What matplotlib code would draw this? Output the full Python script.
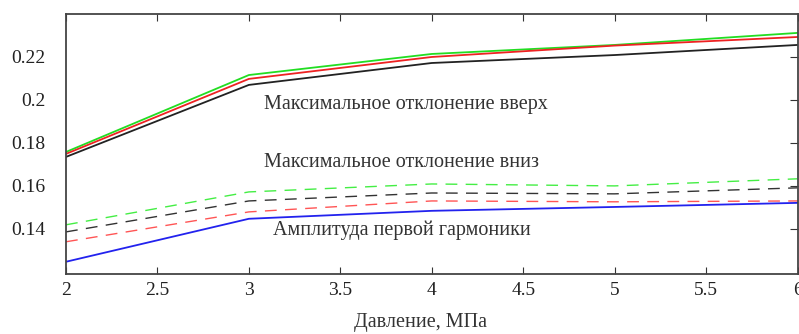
import matplotlib
matplotlib.use("Agg")
import matplotlib.pyplot as plt

pressure = [2, 3, 4, 5, 6]
up_green = [0.1758, 0.2116, 0.2214, 0.2256, 0.2312]
up_red = [0.1749, 0.2098, 0.2200, 0.2253, 0.2293]
up_black = [0.1735, 0.2070, 0.2172, 0.2209, 0.2256]
down_green = [0.1419, 0.1572, 0.1609, 0.1600, 0.1633]
down_black = [0.1386, 0.1530, 0.1567, 0.1563, 0.1591]
down_red = [0.1340, 0.1479, 0.1530, 0.1526, 0.1530]
amplitude = [0.1247, 0.1447, 0.1484, 0.1502, 0.1521]

xticks = [2, 2.5, 3, 3.5, 4, 4.5, 5, 5.5, 6]
xticklabels = ["2", "2.5", "3", "3.5", "4", "4.5", "5", "5.5", "6"]
yticks = [0.14, 0.16, 0.18, 0.2, 0.22]
yticklabels = ["0.14", "0.16", "0.18", "0.2", "0.22"]

label_up = "Максимальное отклонение вверх"
label_down = "Максимальное отклонение вниз"
label_amp = "Амплитуда первой гармоники"
xlabel = "Давление, МПа"

plt.rcParams['font.family'] = ['Liberation Serif', 'DejaVu Serif']

fig = plt.figure(figsize=(7.99, 3.34), dpi=100)
ax = fig.add_axes([66/799, 1-274/334, (797.5-66)/799, (274-14)/334])

ax.plot(pressure, up_green, color='#22dd22', lw=1.3)
ax.plot(pressure, up_red, color='#ee2222', lw=1.3)
ax.plot(pressure, up_black, color='#222222', lw=1.3)
dash = (0, (8.5, 6))
ax.plot(pressure, down_green, color='#44ee44', lw=1.0, linestyle=dash)
ax.plot(pressure, down_black, color='#333333', lw=1.0, linestyle=dash)
ax.plot(pressure, down_red, color='#ff5555', lw=1.0, linestyle=dash)
ax.plot(pressure, amplitude, color='#2222ee', lw=1.3)

ax.set_xlim(2, 6)
ax.set_ylim(0.119, 0.24)
ax.set_xticks(xticks)
ax.set_xticklabels(xticklabels, fontsize=14, color='#222222')
ax.set_yticks(yticks)
ax.set_yticklabels(yticklabels, fontsize=14, color='#222222')
ax.tick_params(axis='x', direction='in', top=True, bottom=True, length=5, pad=6, color='#333333')
ax.tick_params(axis='y', direction='in', left=False, right=True, labelleft=True, length=6, pad=15, color='#333333')
for s in ax.spines.values():
    s.set_color('#444444')
    s.set_linewidth(1.3)

ax.text(3.083, 0.1977, label_up, fontsize=14.5, color='#333333', va='center', ha='left')
ax.text(3.083, 0.1707, label_down, fontsize=14.5, color='#333333', va='center', ha='left')
ax.text(3.13, 0.1395, label_amp, fontsize=14.5, color='#333333', va='center', ha='left')

fig.text(420/799, 1-323/334, xlabel, fontsize=14.5, color='#333333', ha='center', va='center')

fig.savefig("out.png", dpi=100)
